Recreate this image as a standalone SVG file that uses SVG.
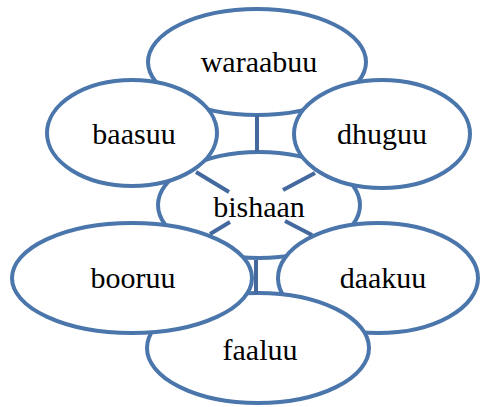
<svg xmlns="http://www.w3.org/2000/svg" width="480" height="407" viewBox="0 0 480 407">
<style>
.n{fill:#fff;stroke:#4a76ac;stroke-width:4}
.t{font-family:"Liberation Serif","Times New Roman",serif;font-size:30px;fill:#000;text-anchor:middle}
.c line{stroke:#44699e;stroke-width:4;stroke-linecap:butt}
</style>
<rect width="480" height="407" fill="#fff"/>
<g id="bishaan"><ellipse class="n" cx="259" cy="205" rx="101" ry="53"/></g>
<g id="waraabuu"><ellipse class="n" cx="257" cy="62" rx="109" ry="53"/><text class="t" x="259" y="72">waraabuu</text></g>
<g id="baasuu"><ellipse class="n" cx="132" cy="133" rx="85" ry="53"/><text class="t" x="134" y="144">baasuu</text></g>
<g id="dhuguu"><ellipse class="n" cx="382" cy="134" rx="88" ry="54"/><text class="t" x="382" y="144">dhuguu</text></g>
<g id="daakuu"><ellipse class="n" cx="378" cy="278" rx="100" ry="55"/><text class="t" x="383" y="288">daakuu</text></g>
<g id="faaluu"><ellipse class="n" cx="258" cy="348" rx="111" ry="55"/><text class="t" x="260" y="360">faaluu</text></g>
<g id="booruu"><ellipse class="n" cx="132" cy="278" rx="120" ry="55"/><text class="t" x="133" y="288">booruu</text></g>
<g id="connectors" class="c">
<line x1="257" y1="115" x2="257" y2="152"/>
<line x1="196" y1="172" x2="229" y2="192"/>
<line x1="315" y1="173" x2="283" y2="190"/>
<line x1="210" y1="234" x2="230" y2="222"/>
<line x1="285" y1="221" x2="312" y2="235"/>
<line x1="256" y1="260" x2="256" y2="294"/>
</g>
<text class="t" x="259" y="217">bishaan</text>
</svg>
